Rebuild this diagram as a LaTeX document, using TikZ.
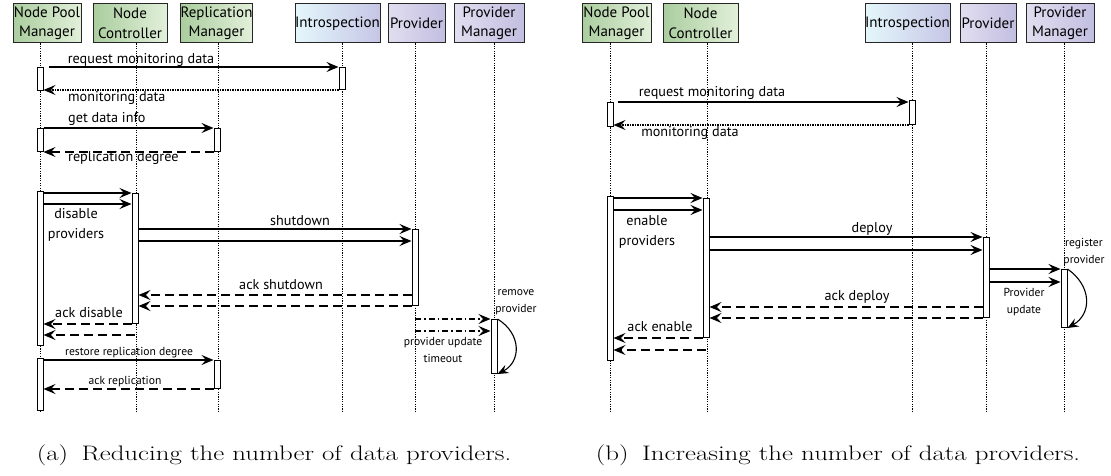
\documentclass[tikz,border=0pt]{standalone}
\usepackage{fontspec}
\usepackage{graphicx}
\setsansfont{PT Sans}
\usetikzlibrary{arrows.meta,calc}

\definecolor{grnL}{RGB}{170,205,158}
\definecolor{grnR}{RGB}{226,240,218}
\definecolor{cyaL}{RGB}{228,247,251}
\definecolor{lavR}{RGB}{198,198,230}
\definecolor{purL}{RGB}{226,222,240}
\definecolor{purR}{RGB}{194,190,224}

\tikzset{
  hdr/.style={draw=black!85, line width=1pt, inner sep=0pt, minimum height=39pt,
    align=center, font=\fontsize{15}{19.5}\selectfont\sffamily},
  hgreen/.style={hdr, left color=grnL, right color=grnR},
  hcyan/.style={hdr, left color=cyaL, right color=lavR},
  hpurple/.style={hdr, left color=purL, right color=purR},
  life/.style={line width=1pt, dash pattern=on 1.2pt off 1.2pt},
  act/.style={draw, fill=white, line width=1pt, minimum width=6pt, inner sep=0pt, anchor=north},
  msg/.style={-{Stealth[length=12pt,width=10pt,inset=4.5pt]}, line width=1.3pt},
  ret/.style={msg, dash pattern=on 9pt off 5pt},
  retdot/.style={msg, dash pattern=on 1.2pt off 1.3pt},
  tmo/.style={msg, dash pattern=on 6pt off 3pt on 1.5pt off 3pt},
  selfmsg/.style={-{Stealth[length=11pt,width=9pt,inset=4pt]}, line width=1.1pt},
  lbl/.style={inner sep=0pt, align=center, font=\fontsize{14.2}{20}\selectfont\sffamily},
  slbl/.style={inner sep=0pt, align=center, font=\fontsize{11.6}{16.5}\selectfont\sffamily},
  captxt/.style={inner sep=0pt, font=\fontsize{21}{24}\selectfont\rmfamily}
}

\begin{document}
\begin{tikzpicture}[x=1pt,y=-1pt]
\useasboundingbox (0,0) rectangle (1111,476);

% ---------------- (a) reducing ----------------
\node[hgreen,  minimum width=68pt] (hNpmA)  at (47,23.5)    {Node Pool\\Manager};
\node[hgreen,  minimum width=74pt] (hNcA)   at (130,23.5)   {Node\\Controller};
\node[hgreen,  minimum width=71pt] (hRepA)  at (216.5,23.5) {Replication\\Manager};
\node[hcyan,   minimum width=85pt] (hIntA)  at (337.5,23.5) {Introspection};
\node[hpurple, minimum width=57pt] (hProvA) at (416.5,23.5) {Provider};
\node[hpurple, minimum width=70pt] (hPmA)   at (489,23.5)   {Provider\\Manager};

\coordinate (eNpmA)  at (40,412);
\coordinate (eNcA)   at (136,412);
\coordinate (eRepA)  at (218,412);
\coordinate (eIntA)  at (342,412);
\coordinate (eProvA) at (415,412);
\coordinate (ePmA)   at (494,412);
\foreach \h/\e in {hNpmA/eNpmA, hNcA/eNcA, hRepA/eRepA, hIntA/eIntA, hProvA/eProvA, hPmA/ePmA}
  \draw[life] (\h.south -| \e) -- (\e);

% activations
\node[act, minimum height=23pt]  (aNpm1) at (40,67)  {};
\node[act, minimum height=22pt]  (aInt1) at (342,67) {};
\node[act, minimum height=23pt]  (aNpm2) at (40,128) {};
\node[act, minimum height=23pt]  (aRep1) at (217,128) {};
\node[act, minimum height=154pt] (aNpm3) at (40,191) {};
\node[act, minimum height=130pt] (aNc)   at (135,193) {};
\node[act, minimum height=76pt]  (aProv) at (415,229) {};
\node[act, minimum height=54pt]  (aPm)   at (494,319) {};
\node[act, minimum height=52pt]  (aNpm4) at (40,358) {};
\node[act, minimum height=28pt]  (aRep2) at (217,360) {};

% monitoring
\draw[msg] ([xshift=5pt]aNpm1.north east) -- (aInt1.north west);
\draw[retdot] (aInt1.south west) -- (aNpm1.east |- aInt1.south);
\node[lbl] (lReq) at (141,60) {request monitoring data};
\node[lbl, anchor=west] (lMon) at (68,98) {monitoring data};

% replication info
\draw[msg] (aNpm2.north east) -- (aRep1.north west);
\draw[ret] (aRep1.south west) -- (aNpm2.south east);
\node[lbl, anchor=west] (lGet) at (68,119) {get data info};
\node[lbl, anchor=west] (lDeg) at (68,158) {replication degree};

% disable providers
\draw[msg] (aNpm3.east |- aNc.north) -- (aNc.north west);
\draw[msg] (aNpm3.east |- 0,204) -- (aNc.west |- 0,204);
\node[lbl] (lDis) at (76,225) {disable\\providers};

\draw[msg] (aNc.east |- aProv.north) -- (aProv.north west);
\draw[msg] (aNc.east |- 0,241) -- (aProv.west |- 0,241);
\node[lbl] (lShut) at (300,221) {shutdown};

\draw[ret] (aProv.west |- 0,295) -- (aNc.east |- 0,295);
\draw[ret] (aProv.south west) -- (aNc.east |- aProv.south);
\node[lbl] (lAckS) at (281,285) {ack shutdown};

\draw[ret] (aNc.south west) -- (aNpm3.east |- aNc.south);
\draw[ret] (aNc.south |- 0,335) -- (aNpm3.east |- 0,335);
\node[lbl] (lAckD) at (89,313) {ack disable};

% provider manager timeout
\draw[tmo] (aProv.south |- aPm.north) -- (aPm.north west);
\draw[tmo] (aProv.south |- 0,331) -- (aPm.west |- 0,331);
\draw[selfmsg] (aPm.north east) .. controls (522,334) and (521,362) .. (aPm.south east);
\node[slbl] (lRem) at (516,302) {remove\\provider};
\node[slbl] (lTmo) at (443,350) {provider update\\timeout};

% restore replication
\draw[msg] (aNpm4.east |- aRep2.north) -- (aRep2.north west);
\draw[ret] (aRep2.south west) -- (aNpm4.east |- aRep2.south);
\node[slbl] (lRes) at (129,353) {restore replication degree};
\node[slbl] (lAckR) at (125,382) {ack replication};

% ---------------- (b) increasing ----------------
\node[hgreen,  minimum width=69pt] (hNpmB)  at (616.5,23.5) {Node Pool\\Manager};
\node[hgreen,  minimum width=75pt] (hNcB)   at (700.5,23.5) {Node\\Controller};
\node[hcyan,   minimum width=85pt] (hIntB)  at (907.5,23.5) {Introspection};
\node[hpurple, minimum width=56pt] (hProvB) at (988,23.5)   {Provider};
\node[hpurple, minimum width=68pt] (hPmB)   at (1060,23.5)  {Provider\\Manager};

\coordinate (eNpmB)  at (610,412);
\coordinate (eNcB)   at (707,412);
\coordinate (eIntB)  at (912,412);
\coordinate (eProvB) at (986,412);
\coordinate (ePmB)   at (1064,412);
\foreach \h/\e in {hNpmB/eNpmB, hNcB/eNcB, hIntB/eIntB, hProvB/eProvB, hPmB/ePmB}
  \draw[life] (\h.south -| \e) -- (\e);

\node[act, minimum height=24pt]  (bNpm1) at (610,102) {};
\node[act, minimum height=24pt]  (bInt1) at (912,100) {};
\node[act, minimum height=164pt] (bNpm2) at (610,196) {};
\node[act, minimum height=139pt] (bNc)   at (706,198) {};
\node[act, minimum height=80pt]  (bProv) at (986,237) {};
\node[act, minimum height=58pt]  (bPm)   at (1064,269) {};

\draw[msg] ([xshift=4pt]bNpm1.north east) -- (bInt1.west |- bNpm1.north);
\draw[retdot] (bInt1.south west) -- (bNpm1.east |- bInt1.south);
\node[lbl] (mReq) at (712,93) {request monitoring data};
\node[lbl] (mMon) at (690,133) {monitoring data};

\draw[msg] (bNpm2.east |- bNc.north) -- (bNc.north west);
\draw[msg] (bNpm2.east |- 0,210) -- (bNc.west |- 0,210);
\node[lbl] (mEn) at (647,232) {enable\\providers};

\draw[msg] (bNc.east |- bProv.north) -- (bProv.north west);
\draw[msg] (bNc.east |- 0,250) -- (bProv.west |- 0,250);
\node[lbl] (mDep) at (872,229) {deploy};

\draw[ret] (bProv.west |- 0,307) -- (bNc.east |- 0,307);
\draw[ret] (bProv.south west) -- (bNc.east |- bProv.south);
\node[lbl] (mAckD) at (857,297) {ack deploy};

\draw[ret] (bNc.south west) -- (bNpm2.east |- bNc.south);
\draw[ret] (bNc.south |- 0,350) -- (bNpm2.east |- 0,350);
\node[lbl] (mAckE) at (660,327) {ack enable};

\draw[msg] (bProv.east |- bPm.north) -- (bPm.north west);
\draw[msg] (bProv.east |- 0,282) -- (bPm.west |- 0,282);
\node[slbl] (mUpd) at (1024,302) {Provider\\update};
\draw[selfmsg] (bPm.north east) .. controls (1092,286) and (1092,314) .. (bPm.south east);
\node[slbl] (mReg) at (1084,252) {register\\provider};

% captions
\node[captxt] (capA) at (274,455) {\scalebox{1.28}[1]{(a)\hspace{0.5em}Reducing the number of data providers.}};
\node[captxt] (capB) at (838,455) {\scalebox{1.28}[1]{(b)\hspace{0.5em}Increasing the number of data providers.}};
\end{tikzpicture}
\end{document}
